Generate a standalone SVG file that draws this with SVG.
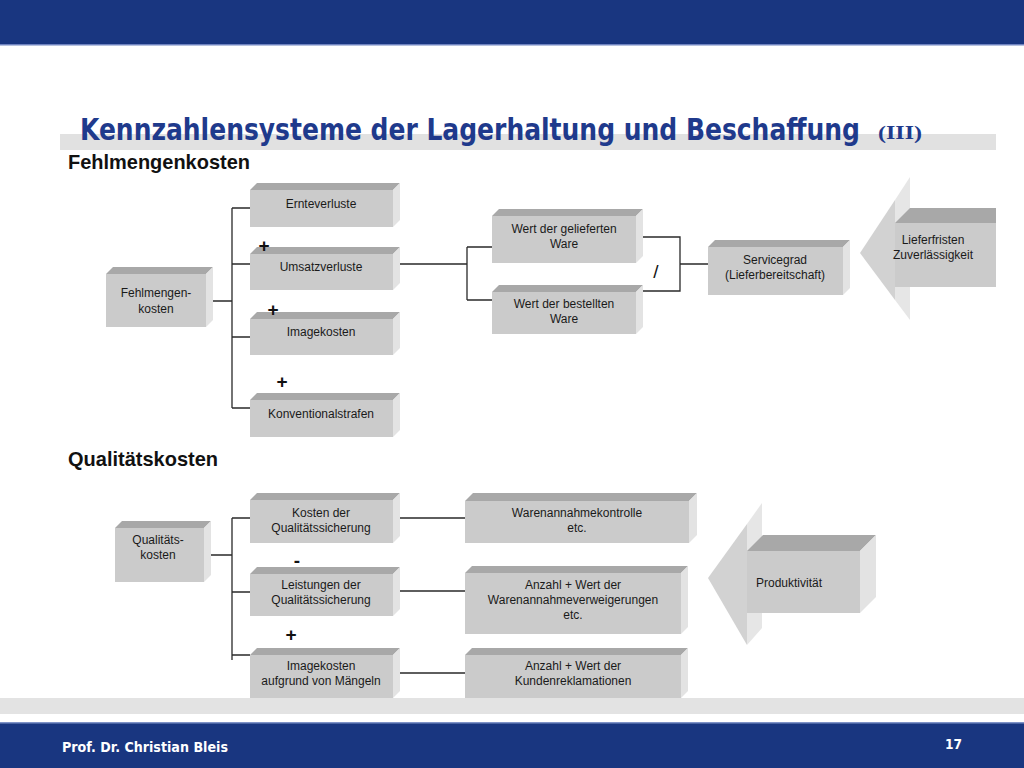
<svg xmlns="http://www.w3.org/2000/svg" width="1024" height="768" viewBox="0 0 1024 768">
<style>
.f{fill:#cbcbcb}
.t{fill:#a8a8a8}
.s{fill:#e3e3e3}
.am{fill:#d2d2d2}
.al{fill:#e6e6e6}
.lbl{font-family:"Liberation Sans",Arial,sans-serif;font-size:12px;fill:#1a1a1a;text-anchor:middle}
.sign{font-family:"Liberation Sans",Arial,sans-serif;font-size:19px;font-weight:bold;fill:#111;text-anchor:middle}
.sec{font-family:"Liberation Sans",Arial,sans-serif;font-size:21px;font-weight:bold;fill:#111}
.ln{stroke:#2a2a2a;stroke-width:1.3;fill:none}
</style>
<rect x="0" y="0" width="1024" height="768" fill="#ffffff"/>
<!-- header -->
<rect x="0" y="0" width="1024" height="44" fill="#193680"/>
<rect x="0" y="44" width="1024" height="1.5" fill="#6f83c0"/>
<rect x="60" y="134" width="936" height="16" fill="#e1e1e1"/>
<text transform="translate(80,140) scale(1,1.18)" x="0" y="0" font-family="DejaVu Sans Condensed,DejaVu Sans,sans-serif" font-weight="bold" font-size="26" fill="#1f3a8c" textLength="780" lengthAdjust="spacingAndGlyphs">Kennzahlensysteme der Lagerhaltung und Beschaffung</text>
<text x="878" y="139" font-family="Liberation Serif,Times New Roman,serif" font-weight="bold" font-size="19" fill="#1f3a8c" textLength="44" lengthAdjust="spacingAndGlyphs">(III)</text>
<text class="sec" x="68" y="169" textLength="182" lengthAdjust="spacingAndGlyphs">Fehlmengenkosten</text>
<text class="sec" x="68" y="466" textLength="150" lengthAdjust="spacingAndGlyphs">Qualitätskosten</text>

<!-- connectors -->
<g id="connectors">
<path class="ln" d="M213 301H232M232 208V408M232 208H250M232 264H250M232 337H250M232 408H250"/>
<path class="ln" d="M400 264H467M467 247V300M467 247H492M467 300H492"/>
<path class="ln" d="M643 237H680V291H643M680 264H726"/>
<path class="ln" d="M211 555H232M232 518V660M232 518H250M232 592H250M232 655H250"/>
<path class="ln" d="M400 518H465M400 591H465M400 673H465"/>
</g>

<!-- Fehlmengenkosten section -->
<g id="n-fehlmengen">
<rect class="f" x="106" y="274" width="100" height="53"/>
<polygon class="t" points="106,274 113,267 213,267 206,274"/>
<polygon class="s" points="206,274 213,267 213,320 206,327"/>
<text class="lbl" x="156" y="297">Fehlmengen-</text>
<text class="lbl" x="156" y="313">kosten</text>
</g>
<g id="n-ernte">
<rect class="f" x="250" y="190" width="143" height="37"/>
<polygon class="t" points="250,190 257,183 400,183 393,190"/>
<polygon class="s" points="393,190 400,183 400,220 393,227"/>
<text class="lbl" x="321" y="208">Ernteverluste</text>
</g>
<g id="n-umsatz">
<rect class="f" x="250" y="254" width="143" height="36"/>
<polygon class="t" points="250,254 257,247 400,247 393,254"/>
<polygon class="s" points="393,254 400,247 400,283 393,290"/>
<text class="lbl" x="321" y="271">Umsatzverluste</text>
</g>
<g id="n-image">
<rect class="f" x="250" y="319" width="143" height="36"/>
<polygon class="t" points="250,319 257,312 400,312 393,319"/>
<polygon class="s" points="393,319 400,312 400,348 393,355"/>
<text class="lbl" x="321" y="336">Imagekosten</text>
</g>
<g id="n-konvention">
<rect class="f" x="250" y="400" width="143" height="37"/>
<polygon class="t" points="250,400 257,393 400,393 393,400"/>
<polygon class="s" points="393,400 400,393 400,430 393,437"/>
<text class="lbl" x="321" y="418">Konventionalstrafen</text>
</g>
<g id="n-geliefert">
<rect class="f" x="492" y="216" width="144" height="47"/>
<polygon class="t" points="492,216 499,209 643,209 636,216"/>
<polygon class="s" points="636,216 643,209 643,256 636,263"/>
<text class="lbl" x="564" y="233">Wert der gelieferten</text>
<text class="lbl" x="564" y="248">Ware</text>
</g>
<g id="n-bestellt">
<rect class="f" x="492" y="292" width="144" height="42"/>
<polygon class="t" points="492,292 499,285 643,285 636,292"/>
<polygon class="s" points="636,292 643,285 643,327 636,334"/>
<text class="lbl" x="564" y="308">Wert der bestellten</text>
<text class="lbl" x="564" y="323">Ware</text>
</g>
<g id="n-servicegrad">
<rect class="f" x="708" y="247" width="135" height="48"/>
<polygon class="t" points="708,247 715,240 850,240 843,247"/>
<polygon class="s" points="843,247 850,240 850,288 843,295"/>
<text class="lbl" x="775" y="264">Servicegrad</text>
<text class="lbl" x="775" y="279">(Lieferbereitschaft)</text>
</g>
<g id="n-lieferfristen">
<polygon class="am" points="860,253 895,200 895,300"/>
<polygon class="al" points="895,200 910,177 910,320 895,300"/>
<polygon class="t" points="895,223 910,208 996,208 996,223"/>
<rect class="f" x="895" y="223" width="101" height="64"/>
<text class="lbl" x="933" y="244">Lieferfristen</text>
<text class="lbl" x="933" y="259">Zuverlässigkeit</text>
</g>

<!-- Qualitaetskosten section -->
<g id="n-qualitaet">
<rect class="f" x="115" y="528" width="89" height="54"/>
<polygon class="t" points="115,528 122,521 211,521 204,528"/>
<polygon class="s" points="204,528 211,521 211,575 204,582"/>
<text class="lbl" x="158" y="544">Qualitäts-</text>
<text class="lbl" x="158" y="559">kosten</text>
</g>
<g id="n-kosten-qs">
<rect class="f" x="250" y="500" width="143" height="43"/>
<polygon class="t" points="250,500 257,493 400,493 393,500"/>
<polygon class="s" points="393,500 400,493 400,536 393,543"/>
<text class="lbl" x="321" y="517">Kosten der</text>
<text class="lbl" x="321" y="532">Qualitätssicherung</text>
</g>
<g id="n-leistungen-qs">
<rect class="f" x="250" y="574" width="143" height="42"/>
<polygon class="t" points="250,574 257,567 400,567 393,574"/>
<polygon class="s" points="393,574 400,567 400,609 393,616"/>
<text class="lbl" x="321" y="589">Leistungen der</text>
<text class="lbl" x="321" y="604">Qualitätssicherung</text>
</g>
<g id="n-image-maengel">
<rect class="f" x="250" y="655" width="143" height="43"/>
<polygon class="t" points="250,655 257,648 400,648 393,655"/>
<polygon class="s" points="393,655 400,648 400,691 393,698"/>
<text class="lbl" x="321" y="670">Imagekosten</text>
<text class="lbl" x="321" y="685">aufgrund von Mängeln</text>
</g>
<g id="n-warenannahme">
<rect class="f" x="465" y="501" width="224" height="42"/>
<polygon class="t" points="465,501 473,493 697,493 689,501"/>
<polygon class="s" points="689,501 697,493 697,535 689,543"/>
<text class="lbl" x="577" y="517">Warenannahmekontrolle</text>
<text class="lbl" x="577" y="532">etc.</text>
</g>
<g id="n-verweigerungen">
<rect class="f" x="465" y="573" width="216" height="61"/>
<polygon class="t" points="465,573 472,566 688,566 681,573"/>
<polygon class="s" points="681,573 688,566 688,627 681,634"/>
<text class="lbl" x="573" y="589">Anzahl + Wert der</text>
<text class="lbl" x="573" y="604">Warenannahmeverweigerungen</text>
<text class="lbl" x="573" y="619">etc.</text>
</g>
<g id="n-reklamationen">
<rect class="f" x="465" y="655" width="216" height="43"/>
<polygon class="t" points="465,655 472,648 688,648 681,655"/>
<polygon class="s" points="681,655 688,648 688,691 681,698"/>
<text class="lbl" x="573" y="670">Anzahl + Wert der</text>
<text class="lbl" x="573" y="685">Kundenreklamationen</text>
</g>
<g id="n-produktivitaet">
<polygon class="am" points="708,578 747,524 747,645"/>
<polygon class="al" points="747,524 762,503 762,628 747,645"/>
<polygon class="t" points="747,551 763,535 876,535 860,551"/>
<polygon class="s" points="860,551 876,535 876,597 860,613"/>
<rect class="f" x="747" y="551" width="113" height="62"/>
<text class="lbl" x="789" y="587">Produktivität</text>
</g>

<!-- signs -->
<g id="signs">
<text class="sign" x="264" y="252">+</text>
<text class="sign" x="273" y="316">+</text>
<text class="sign" x="282" y="388">+</text>
<text class="sign" x="297" y="567">-</text>
<text class="sign" x="291" y="641">+</text>
<text x="656" y="278" font-family="Liberation Sans,Arial,sans-serif" font-size="19" fill="#111" text-anchor="middle">/</text>
</g>

<!-- footer -->
<rect x="0" y="698" width="1024" height="16" fill="#e3e3e3"/>
<rect x="0" y="722" width="1024" height="46" fill="#193680"/>
<rect x="0" y="722" width="1024" height="1.5" fill="#7f93c8"/>
<text x="62" y="752" font-family="DejaVu Sans Condensed,DejaVu Sans,sans-serif" font-weight="bold" font-size="14" fill="#ffffff" textLength="166" lengthAdjust="spacingAndGlyphs">Prof. Dr. Christian Bleis</text>
<text x="945" y="749" font-family="DejaVu Sans Condensed,DejaVu Sans,sans-serif" font-weight="bold" font-size="14" fill="#ffffff" textLength="17" lengthAdjust="spacingAndGlyphs">17</text>
</svg>
